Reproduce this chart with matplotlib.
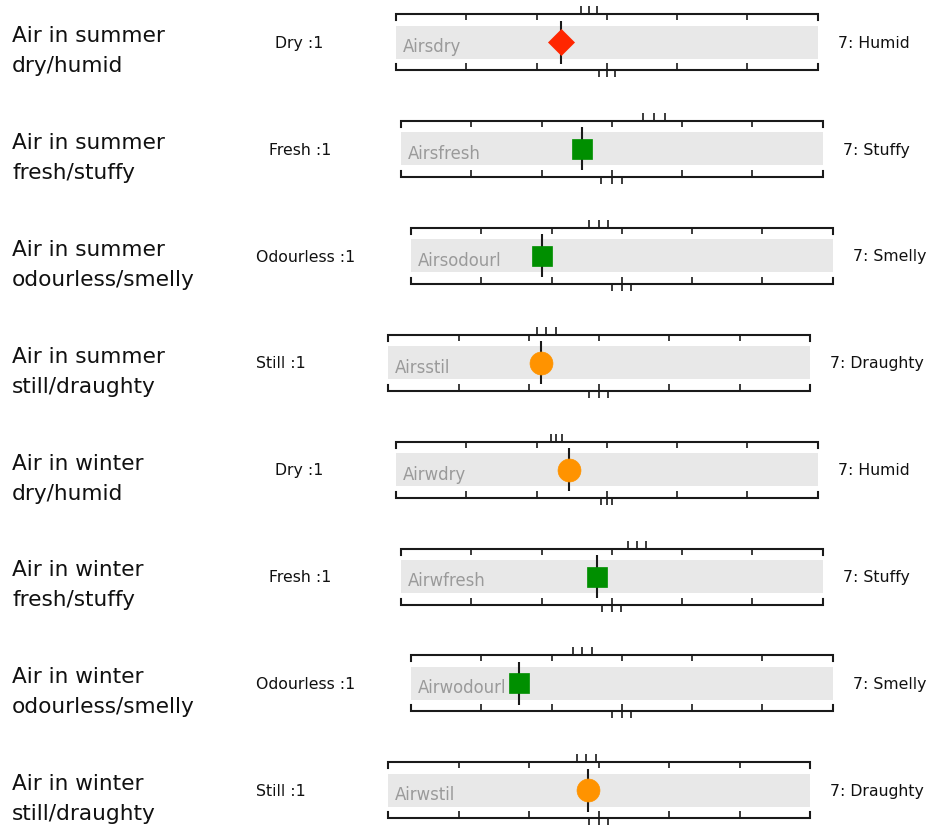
import matplotlib
matplotlib.use("Agg")
import matplotlib.pyplot as plt

# questions, one row each
row_labels = ["Air in summer\ndry/humid", "Air in summer\nfresh/stuffy",
              "Air in summer\nodourless/smelly", "Air in summer\nstill/draughty",
              "Air in winter\ndry/humid", "Air in winter\nfresh/stuffy",
              "Air in winter\nodourless/smelly", "Air in winter\nstill/draughty"]
variables = ["Airsdry", "Airsfresh", "Airsodourl", "Airsstil",
             "Airwdry", "Airwfresh", "Airwodourl", "Airwstil"]
low_labels = ["Dry :1", "Fresh :1", "Odourless :1", "Still :1",
              "Dry :1", "Fresh :1", "Odourless :1", "Still :1"]
high_labels = ["7: Humid", "7: Stuffy", "7: Smelly", "7: Draughty",
               "7: Humid", "7: Stuffy", "7: Smelly", "7: Draughty"]

# mean score on the 1-7 scale
means = [3.35, 3.58, 2.87, 3.17, 3.46, 3.79, 2.53, 3.84]
kinds = ["diamond", "square", "square", "circle",
         "circle", "square", "square", "circle"]

# small marks above / below the ruler
top_marks = [[3.63, 3.74, 3.86], [4.45, 4.60, 4.75], [3.53, 3.67, 3.80],
             [3.12, 3.25, 3.39], [3.20, 3.28, 3.36], [4.23, 4.36, 4.49],
             [3.30, 3.44, 3.58], [3.68, 3.82, 3.95]]
bottom_marks = [[3.89, 4.0, 4.11], [3.84, 4.0, 4.15], [3.86, 4.0, 4.13],
                [3.86, 4.0, 4.13], [3.92, 4.0, 4.08], [3.86, 4.0, 4.13],
                [3.86, 4.0, 4.13], [3.86, 4.0, 4.13]]
scale_ticks = [1, 2, 3, 4, 5, 6, 7]

# layout (pixels)
W, H = 930, 825
row_pitch = 106.9
first_center = 42
x_starts = [396, 401, 411, 388.3] * 2
scale_w = 421.7
low_cx = [299, 300, 306, 281] * 2

marker_style = {"diamond": ("D", "#ff2600", 13.2),
                "square": ("s", "#008f00", 14.0),
                "circle": ("o", "#ff9300", 16.5)}
ink = "#1a1a1a"

fig = plt.figure(figsize=(W / 100, H / 100), dpi=100)
bg = fig.add_axes([0, 0, 1, 1])
bg.set_xlim(0, W)
bg.set_ylim(H, 0)
bg.axis("off")

for i in range(len(variables)):
    c = first_center + row_pitch * i
    x0 = x_starts[i]

    # text outside the scale
    first, second = row_labels[i].split("\n")
    bg.text(12, c, first, fontsize=15.6, va="baseline", color="#111111")
    bg.text(12, c + 30, second, fontsize=15.6, va="baseline", color="#111111")
    bg.text(low_cx[i], c + 5.7, low_labels[i], fontsize=11.3, ha="center",
            va="baseline", color="#111111")

    ax = fig.add_axes([x0 / W, 1 - (c + 40) / H, scale_w / W, 80 / H])
    ax.set_xlim(1, 7)
    ax.set_ylim(40, -40)
    ax.axis("off")

    ax.barh(0, 6, left=1, height=33, color="#e8e8e8", zorder=1)

    # rulers drawn as brackets
    ax.plot([1, 1, 7, 7], [-22, -28, -28, -22], color=ink, lw=1.5,
            solid_joinstyle="miter", clip_on=False, zorder=2)
    ax.plot([1, 1, 7, 7], [22, 28, 28, 22], color=ink, lw=1.5,
            solid_joinstyle="miter", clip_on=False, zorder=2)
    ax.vlines(scale_ticks[1:-1], -28, -22, color=ink, lw=1.2, zorder=2)
    ax.vlines(scale_ticks[1:-1], 21, 28, color=ink, lw=1.2, zorder=2)
    ax.vlines(top_marks[i], -36, -28, color=ink, lw=1.2, clip_on=False)
    ax.vlines(bottom_marks[i], 28, 35, color=ink, lw=1.2, clip_on=False)

    ax.annotate(variables[i], xy=(1, 10), xytext=(6.5, 0),
                textcoords="offset pixels", fontsize=11.9, va="baseline",
                color="#9a9a9a", zorder=3)

    m, col, ms = marker_style[kinds[i]]
    ax.vlines(means[i], -21.5, 21.5, color=ink, lw=1.5, zorder=4)
    ax.plot([means[i]], [0], marker=m, ms=ms, color=col, mec=col, mew=0.5,
            zorder=5)

    ax.annotate(high_labels[i], xy=(7, 5.7), xytext=(20, 0),
                textcoords="offset pixels", fontsize=11.3, va="baseline",
                color="#111111", annotation_clip=False)

fig.savefig("out.png", dpi=100)
